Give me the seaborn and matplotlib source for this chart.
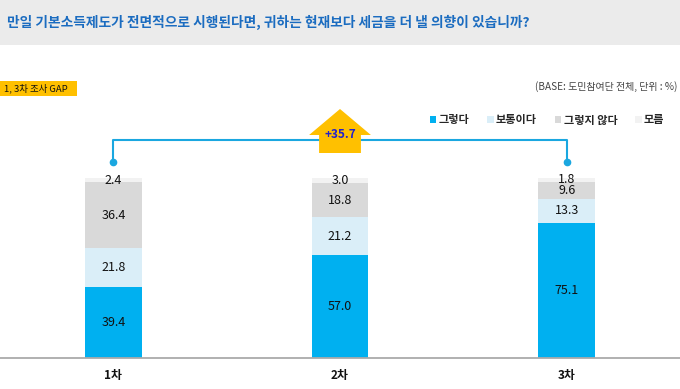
import matplotlib
matplotlib.use("Agg")
import matplotlib.pyplot as plt
from matplotlib.patches import Rectangle, Polygon, Patch
import pandas as pd
import seaborn as sns

rounds = ["1차", "2차", "3차"]
series = ["그렇다", "보통이다", "그렇지 않다", "모름"]
yes = [39.4, 57.0, 75.1]
neutral = [21.8, 21.2, 13.3]
no = [36.4, 18.8, 9.6]
unknown = [2.4, 3.0, 1.8]
colors = ["#00b0f0", "#daeef8", "#d9d9d9", "#f2f2f2"]

title = "만일 기본소득제도가 전면적으로 시행된다면, 귀하는 현재보다 세금을 더 낼 의향이 있습니까?"
base_note = "(BASE: 도민참여단 전체, 단위 : %)"
gap_tag = "1, 3차 조사 GAP"

sns.set_theme(style="white")
plt.rcParams["font.family"] = ["Noto Sans CJK KR", "DejaVu Sans"]

W, H = 680, 389
fig = plt.figure(figsize=(W / 100, H / 100), dpi=100)

# grey title band
fig.patches.append(Rectangle((0, 1 - 45 / H), 1, 45 / H, transform=fig.transFigure,
                             facecolor="#ebebeb", edgecolor="none", zorder=0))
fig.text(7 / W, 1 - 22 / H, title, fontsize=9.9, fontweight="bold", color="#1b6cc0",
         va="center", ha="left")

# axes: baseline at y=358px, 100% = 180px
ax = fig.add_axes([0, 1 - 358 / H, 1, 313 / H])
ymax = 313 / 1.8
step = 227.5
ax.set_xlim(-112 / step, (W - 112) / step)
ax.set_ylim(0, ymax)

df = pd.DataFrame({"round": rounds, "그렇다": yes, "보통이다": neutral,
                   "그렇지 않다": no, "모름": unknown})
cum = df[series].cumsum(axis=1)

# stacked bars drawn from the total downwards
for s, c in zip(series[::-1], colors[::-1]):
    sns.barplot(x=df["round"], y=cum[s], color=c, width=0.25, ax=ax,
                saturation=1, edgecolor="none", zorder=2)

for i in range(len(rounds)):
    bottom = 0
    for s in series:
        v = df[s][i]
        ax.text(i, bottom + v / 2, f"{v:.1f}", ha="center", va="center",
                fontsize=9, color="#111111", zorder=5)
        bottom += v

sns.despine(ax=ax, left=True, top=True, right=True)
ax.spines["bottom"].set_color("#aaaaaa")
ax.spines["bottom"].set_linewidth(1.3)
ax.set_yticks([])
ax.set_xlabel("")
ax.set_ylabel("")
ax.tick_params(axis="x", length=0, pad=8, labelsize=8.5, colors="#111111")
for lbl in ax.get_xticklabels():
    lbl.set_fontweight("bold")

# GAP bracket between 1차 and 3차
br_y = (358 - 140) / 1.8
dot_y = (358 - 162) / 1.8
ax.plot([0, 0, 2, 2], [dot_y, br_y, br_y, dot_y], color="#1aa7e0", lw=1.5, zorder=3)
ax.plot([0, 2], [dot_y, dot_y], "o", color="#1aa7e0", ms=4.5, zorder=4)

# yellow arrow
cx = 1
hw, sw = 31 / step, 21 / step
tip, base, sb = (358 - 109) / 1.8, (358 - 135) / 1.8, (358 - 153) / 1.8
arrow = Polygon([(cx - sw, sb), (cx - sw, base), (cx - hw, base), (cx, tip),
                 (cx + hw, base), (cx + sw, base), (cx + sw, sb)],
                closed=True, facecolor="#ffc000", edgecolor="none", zorder=4)
ax.add_patch(arrow)
gap = yes[2] - yes[0]
ax.text(cx, (358 - 134) / 1.8, f"+{gap:.1f}", ha="center", va="center",
        fontsize=8.5, fontweight="bold", color="#2222cc", zorder=5)

# tag and base note
fig.patches.append(Rectangle((0, 1 - 96 / H), 77 / W, 15 / H, transform=fig.transFigure,
                             facecolor="#ffc000", edgecolor="none"))
fig.text(4 / W, 1 - 88.5 / H, gap_tag, fontsize=6.8, fontweight="medium",
         color="#111111", va="center")
fig.text(677 / W, 1 - 87 / H, base_note, fontsize=7.2, color="#444444",
         va="center", ha="right")

handles = [Patch(facecolor=c, edgecolor="none", label=s) for s, c in zip(series, colors)]
leg = fig.legend(handles=handles, loc="center right", bbox_to_anchor=(670 / W, 1 - 120 / H),
                 ncol=4, frameon=False, fontsize=8, handlelength=0.6, handleheight=0.6,
                 handletextpad=0.2, columnspacing=1.6, borderpad=0)
for t in leg.get_texts():
    t.set_fontweight("bold")

fig.savefig("out.png", dpi=100)
